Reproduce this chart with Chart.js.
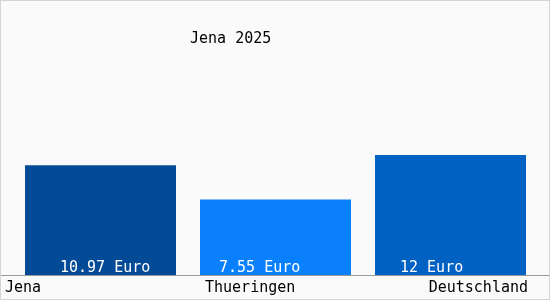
<!DOCTYPE html>
<html>
<head>
<meta charset="utf-8">
<script src="https://cdn.jsdelivr.net/npm/chart.js@4/dist/chart.umd.min.js"></script>
<style>
  html, body { margin: 0; padding: 0; background: #fafafa; }
  #wrap { width: 550px; height: 300px; }
</style>
</head>
<body>
<div id="wrap"><canvas id="chartCanvas" width="550" height="300"></canvas></div>
<script>
// chart data
const categories = ['Jena', 'Thueringen', 'Deutschland'];
const values = [10.97, 7.55, 12];
const valueLabels = ['10.97 Euro', '7.55 Euro', '12 Euro'];
const barColors = ['#034b96', '#0a80fc', '#0262c3'];
const chartTitle = 'Jena 2025';

const font = '15px "DejaVu Sans Mono", monospace';

// background, border, title, baseline and all texts
const decorations = {
    id: 'decorations',
    beforeDraw(chart) {
        const c = chart.ctx;
        c.save();
        c.fillStyle = '#fafafa';
        c.fillRect(0, 0, chart.width, chart.height);
        c.restore();
    },
    afterDatasetsDraw(chart) {
        const c = chart.ctx;
        const bars = chart.getDatasetMeta(0).data;
        const y0 = chart.scales.y.getPixelForValue(0);
        c.save();

        // baseline
        c.strokeStyle = '#9a9a9a';
        c.lineWidth = 1;
        c.beginPath();
        c.moveTo(0, Math.round(y0) + 0.5);
        c.lineTo(chart.width, Math.round(y0) + 0.5);
        c.stroke();

        c.font = font;
        c.textBaseline = 'alphabetic';

        // values inside the bars
        const valueOffsets = [35, 19, 25];
        c.fillStyle = '#ffffff';
        c.textAlign = 'left';
        bars.forEach((bar, i) => {
            const left = bar.x - bar.width / 2;
            c.fillText(valueLabels[i], left + valueOffsets[i], y0 - 3);
        });

        // category labels
        c.fillStyle = '#000000';
        bars.forEach((bar, i) => {
            const left = bar.x - bar.width / 2;
            const right = bar.x + bar.width / 2;
            if (i === 0) {
                c.textAlign = 'left';
                c.fillText(categories[i], 5, y0 + 17);
            } else if (i === bars.length - 1) {
                c.textAlign = 'right';
                c.fillText(categories[i], right + 2, y0 + 17);
            } else {
                c.textAlign = 'left';
                c.fillText(categories[i], left + 5, y0 + 17);
            }
        });

        // title
        c.textAlign = 'left';
        c.fillText(chartTitle, 190, 43);

        // frame
        c.strokeStyle = '#d4d4d4';
        c.strokeRect(0.5, 0.5, chart.width - 1, chart.height - 1);
        c.restore();
    }
};

const ctx = document.getElementById('chartCanvas').getContext('2d');
const myChart = new Chart(ctx, {
    type: 'bar',
    data: {
        labels: categories,
        datasets: [{
            data: values,
            backgroundColor: barColors,
            borderWidth: 0,
            categoryPercentage: 1,
            barPercentage: 151 / 175
        }]
    },
    options: {
        responsive: false,
        animation: false,
        devicePixelRatio: 1,
        layout: {
            padding: { left: 13, right: 12, top: 75, bottom: 25 }
        },
        plugins: {
            legend: { display: false },
            tooltip: { enabled: false },
            title: { display: false }
        },
        scales: {
            x: { display: false, offset: true },
            y: { display: false, min: 0, max: 20 }
        }
    },
    plugins: [decorations]
});
</script>
</body>
</html>
